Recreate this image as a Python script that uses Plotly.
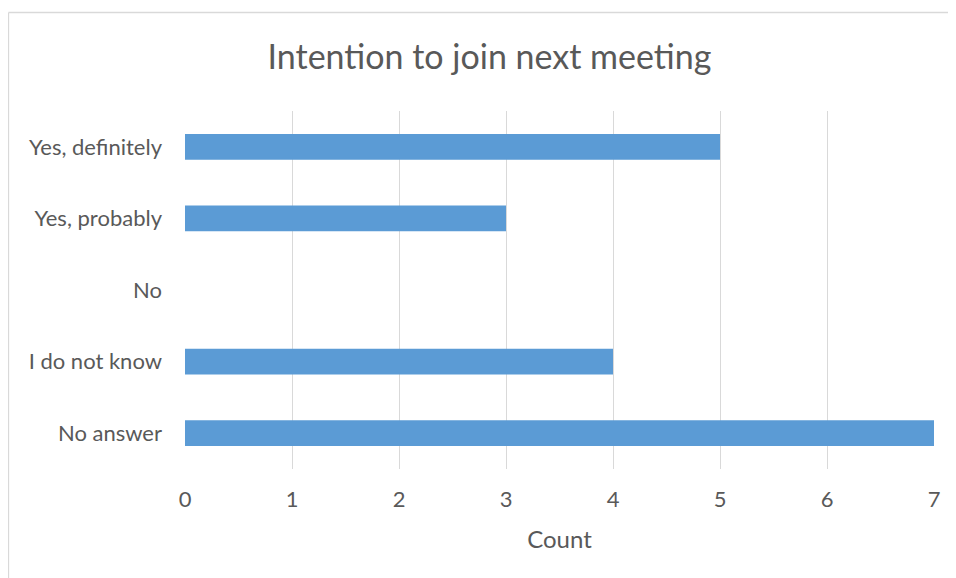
import plotly.graph_objects as go

categories = ["Yes, definitely", "Yes, probably", "No", "I do not know", "No answer"]
counts = [5, 3, 0, 4, 7]
x_ticks = [0, 1, 2, 3, 4, 5, 6, 7]

# page body has an 8px margin, so the figure is sized to fit the 956x578 window
W, H = 948, 570
L, R, T, B = 177, 926, 103, 461
pw, ph = R - L, B - T

fig = go.Figure(go.Bar(
    y=categories, x=counts, orientation="h",
    marker=dict(color="#5B9BD5", line=dict(width=0)),
))

font_family = "Lato, Open Sans, sans-serif"
bx0 = (0.5 - L) / pw
by1 = (B - 4.5) / ph
border = dict(color="#D9D9D9", width=1.3)
fig.update_layout(
    width=W, height=H,
    margin=dict(l=L, r=W - R, t=T, b=H - B),
    paper_bgcolor="white", plot_bgcolor="white",
    bargap=0.64,
    showlegend=False,
    title=dict(text="Intention to join next meeting", x=481.5 / W, xanchor="center",
               y=1 - 49 / H, yanchor="middle",
               font=dict(family=font_family, size=34, color="#595959")),
    font=dict(family=font_family, color="#595959", size=22),
    xaxis=dict(range=[0, 7], tickvals=x_ticks, showgrid=True, gridcolor="#D9D9D9",
               gridwidth=1.3, zeroline=False, showline=False,
               ticks="", ticklabelstandoff=15,
               title=dict(text="Count", standoff=20, font=dict(size=24, color="#595959")),
               tickfont=dict(size=22, color="#595959")),
    yaxis=dict(categoryorder="array", categoryarray=categories[::-1],
               showgrid=False, zeroline=False, showline=False, ticks="",
               ticklabelstandoff=22, tickfont=dict(size=22, color="#595959")),
    shapes=[
        dict(type="line", xref="paper", yref="paper", x0=bx0, x1=bx0, y0=-0.5, y1=by1,
             line=border, layer="below"),
        dict(type="line", xref="paper", yref="paper", x0=bx0, x1=1.5, y0=by1, y1=by1,
             line=border, layer="below"),
    ],
)

fig.write_html("out.html")
